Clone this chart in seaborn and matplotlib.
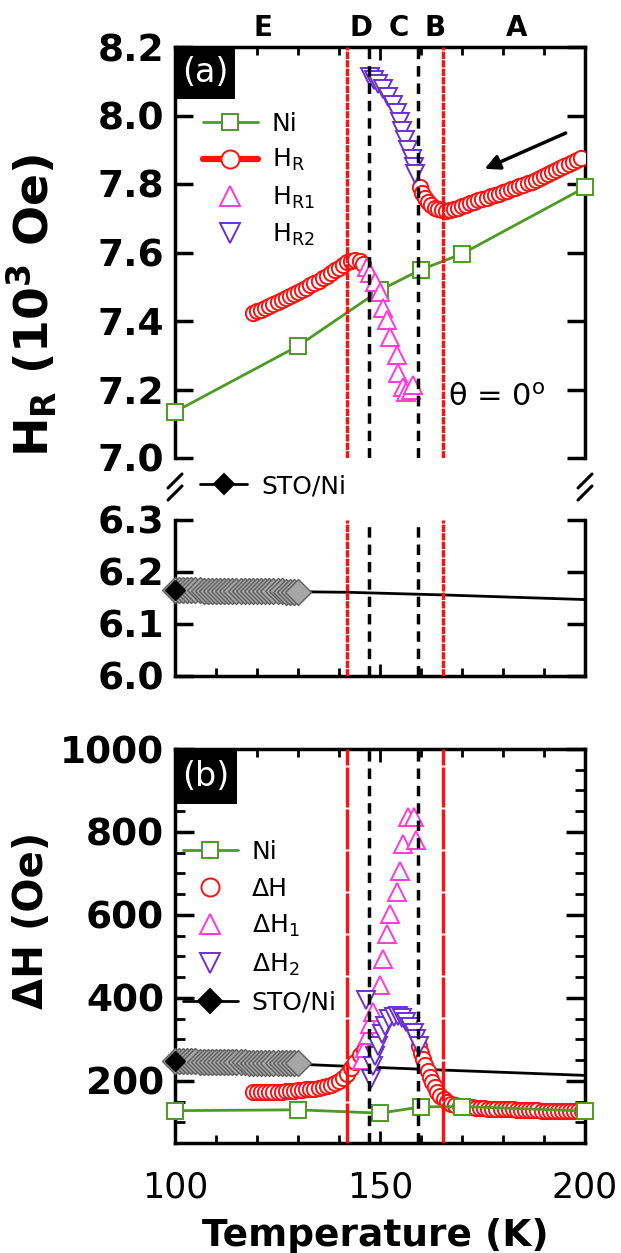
import matplotlib
matplotlib.use('Agg')
import matplotlib.pyplot as plt
import seaborn as sns
from matplotlib.lines import Line2D
from matplotlib.patches import Rectangle
from matplotlib.transforms import blended_transform_factory

sns.set_theme(style='ticks')
plt.rcParams['font.family'] = ['DejaVu Sans']
plt.rcParams['mathtext.default'] = 'regular'
for k in ('text.color', 'axes.labelcolor', 'xtick.color', 'ytick.color', 'axes.edgecolor'):
    plt.rcParams[k] = 'black'

# ---------------- data ----------------
ni_T = [100, 130, 150, 160, 170, 200]
ni_HR = [7.135, 7.327, 7.490, 7.550, 7.596, 7.790]
ni_dH = [128, 130, 122, 137, 138, 127]

hr_low_T = [119, 120, 121, 122, 123, 124, 125, 126, 127, 128, 129, 130, 131, 132,
            133, 134, 135, 136, 137, 138, 139, 140, 141, 142, 143, 144, 145, 145.8]
hr_low_H = [7.422, 7.428, 7.433, 7.439, 7.444, 7.450, 7.455, 7.461, 7.467, 7.473,
            7.479, 7.485, 7.491, 7.497, 7.504, 7.511, 7.518, 7.525, 7.532, 7.540,
            7.548, 7.556, 7.564, 7.571, 7.576, 7.578, 7.574, 7.566]
hr_up_T = [159.8, 160.3, 160.9, 161.6, 162.4, 163.3, 164.2, 165.1, 166.0, 167.0,
           168.0, 169.0, 170.0, 171.0, 172.0, 173.0, 174.0, 175.0, 176.0, 177.0,
           178.0, 179.0, 180.0, 181.0, 182.0, 183.0, 184.0, 185.0, 186.0, 187.0,
           188.0, 189.0, 190.0, 191.0, 192.0, 193.0, 194.0, 195.0, 196.0, 197.0,
           198.0, 199.0]
hr_up_H = [7.792, 7.775, 7.760, 7.748, 7.738, 7.731, 7.726, 7.723, 7.722, 7.724,
           7.727, 7.731, 7.736, 7.740, 7.744, 7.748, 7.752, 7.756, 7.760, 7.764,
           7.768, 7.772, 7.776, 7.780, 7.784, 7.788, 7.793, 7.797, 7.802, 7.807,
           7.812, 7.817, 7.822, 7.828, 7.834, 7.840, 7.846, 7.852, 7.858, 7.864,
           7.870, 7.876]

hr1_T = [146.8, 147.6, 148.8, 150.0, 150.8, 151.6, 152.4, 154.1, 154.5, 155.7,
         156.3, 157.6, 158.1]
hr1_H = [7.559, 7.539, 7.515, 7.486, 7.437, 7.403, 7.354, 7.301, 7.247, 7.208,
         7.194, 7.200, 7.213]

hr2_T = [147.6, 148.6, 149.6, 150.8, 152.0, 153.2, 154.1, 154.8, 155.4, 156.1,
         156.9, 157.7, 158.3, 158.6]
hr2_H = [8.113, 8.105, 8.093, 8.077, 8.055, 8.031, 8.006, 7.980, 7.956, 7.928,
         7.900, 7.874, 7.850, 7.830]

sto_mk_T = [100, 101, 102, 103, 104, 105, 106, 107, 108, 109, 110, 111, 112, 113,
            114, 115, 116, 117, 118, 119, 120, 121, 122, 123, 124, 125, 126, 127,
            128, 129, 130]
sto_mk_HR = [6.165, 6.165, 6.165, 6.165, 6.165, 6.165, 6.165, 6.164, 6.164, 6.164,
             6.164, 6.164, 6.164, 6.164, 6.164, 6.164, 6.164, 6.163, 6.163, 6.163,
             6.163, 6.163, 6.163, 6.163, 6.163, 6.163, 6.163, 6.162, 6.162, 6.162,
             6.162]
sto_mk_dH = [247, 247, 247, 247, 247, 247, 246, 246, 246, 246, 246, 246, 245, 245,
             245, 245, 245, 245, 244, 244, 244, 244, 244, 243, 243, 243, 243, 242,
             242, 242, 242]
sto_line_T = [100, 130, 142, 165, 200]
sto_line_HR = [6.165, 6.162, 6.161, 6.156, 6.147]
sto_line_dH = [247, 240, 235, 226, 213]

dh_low_T = [119, 120, 121, 122, 123, 124, 125, 126, 127, 128, 129, 130, 131, 132,
            133, 134, 135, 136, 137, 138, 139, 140, 141, 142, 143, 144, 145, 146]
dh_low = [172, 172, 172, 173, 173, 173, 174, 174, 175, 175, 176, 177, 178, 179,
          180, 181, 183, 185, 187, 190, 194, 199, 206, 216, 230, 246, 261, 274]
dh_up_T = [159.5, 160.0, 160.5, 161.0, 161.6, 162.2, 162.8, 163.4, 164.0, 164.7,
           165.5, 166.4, 167.4, 168.4, 169.4, 170.4, 171.4, 172.4, 173.4, 174.4,
           175.4, 176.4, 177.4, 178.4, 179.4, 180.4, 181.4, 182.4, 183.4, 184.4,
           185.4, 186.4, 187.4, 188.4, 189.4, 190.4, 191.4, 192.4, 193.4, 194.4,
           195.4, 196.4, 197.4, 198.4, 199.2]
dh_up = [283, 268, 252, 238, 224, 210, 197, 185, 174, 164, 156, 150, 145, 142, 140,
         138, 137, 136, 135, 134, 134, 133, 133, 132, 132, 131, 131, 131, 130, 130,
         130, 129, 129, 129, 128, 128, 128, 127, 127, 127, 127, 126, 126, 126, 126]

dh1_T = [145.6, 146.4, 147.0, 147.6, 148.2, 150.0, 150.8, 151.6, 152.4, 154.1,
         154.9, 155.7, 156.9, 158.3, 158.9]
dh1 = [250, 280, 310, 338, 365, 430, 494, 554, 602, 654, 705, 770, 836, 836, 780]

dh2_T = [146.5, 147.7, 148.2, 148.8, 149.5, 150.4, 151.3, 152.3, 153.3, 154.3,
         155.3, 156.3, 157.3, 158.2, 158.9, 159.5]
dh2 = [395, 205, 235, 260, 285, 312, 333, 348, 355, 357, 352, 342, 330, 316, 300, 285]

red_lines = [142.0, 165.3]
black_lines = [147.4, 159.3]
region_labels = ['E', 'D', 'C', 'B', 'A']
region_T = [121.5, 145.4, 154.6, 163.4, 183.4]

# ---------------- style ----------------
GREEN = '#4f9a24'
RED = '#ff1010'
PINK = '#ff3ad6'
PURPLE = '#6a30cf'

W, H = 621, 1253
fig = plt.figure(figsize=(W / 100, H / 100), dpi=100)


def fx(p):
    return p / W


def fy(p):
    return 1 - p / H


L, R = 175, 585
ax_a = fig.add_axes([fx(L), fy(458), fx(R) - fx(L), fy(47) - fy(458)])
ax_s = fig.add_axes([fx(L), fy(676), fx(R) - fx(L), fy(520) - fy(676)])
ax_b = fig.add_axes([fx(L), fy(1143), fx(R) - fx(L), fy(749) - fy(1143)])

for ax in (ax_a, ax_s, ax_b):
    ax.set_xlim(100, 200)
    for s in ax.spines.values():
        s.set_linewidth(2.5)
        s.set_color('black')
    ax.set_xticks([100, 150, 200])
    ax.set_xticks(range(100, 201, 10), minor=True)
    ax.tick_params(axis='x', which='major', direction='in', length=9, width=2,
                   top=True, bottom=True, labelsize=25, pad=20, colors='black')
    ax.tick_params(axis='x', which='minor', direction='in', length=6, width=2,
                   top=True, bottom=True, colors='black')
    ax.tick_params(axis='y', which='major', direction='in', length=13, width=2.5,
                   left=True, right=True, labelsize=27, pad=8, colors='black')

ax_a.set_ylim(7.0, 8.2)
ax_a.set_yticks([7.0, 7.2, 7.4, 7.6, 7.8, 8.0, 8.2])
ax_a.set_yticklabels(['7.0', '7.2', '7.4', '7.6', '7.8', '8.0', '8.2'])
ax_a.spines['bottom'].set_visible(False)
ax_a.tick_params(axis='x', which='both', bottom=False, labelbottom=False)

ax_s.set_ylim(6.0, 6.3)
ax_s.set_yticks([6.0, 6.1, 6.2, 6.3])
ax_s.set_yticklabels(['6.0', '6.1', '6.2', '6.3'])
ax_s.spines['top'].set_visible(False)
ax_s.tick_params(axis='x', which='both', top=False, labelbottom=False)

ax_b.set_ylim(50, 1000)
ax_b.set_yticks([200, 400, 600, 800, 1000])
ax_b.set_yticks(range(50, 1001, 50), minor=True)
ax_b.tick_params(axis='y', which='major', length=14)
ax_b.tick_params(axis='y', which='minor', direction='in', length=7, width=2,
                 left=True, right=True, colors='black')
ax_b.set_xticklabels(['100', '150', '200'])

for ax in (ax_a, ax_s, ax_b):
    for lab in ax.get_yticklabels():
        lab.set_fontweight('bold')

# vertical region lines
for ax, red_ls in ((ax_a, (0, (2.2, 0.35))), (ax_s, (0, (2.2, 0.35))), (ax_b, (0, (12, 0.6)))):
    for t in red_lines:
        ax.axvline(t, color=RED, lw=2.4, ls=red_ls, zorder=4)
    for t in black_lines:
        ax.axvline(t, color='black', lw=2.5, ls=(0, (3.0, 2.0)), zorder=4)

mk = dict(markeredgewidth=1.4, markerfacecolor='white')

# ---- panel (a) upper ----
sns.lineplot(x=ni_T, y=ni_HR, ax=ax_a, estimator=None, sort=False, color=GREEN, lw=2,
             marker='s', markersize=12, markeredgecolor=GREEN, zorder=3, clip_on=False, **mk)
for tt, hh in ((hr_low_T, hr_low_H), (hr_up_T, hr_up_H)):
    sns.lineplot(x=tt, y=hh, ax=ax_a, estimator=None, sort=False, color=RED, lw=2,
                 marker='o', markersize=11, markeredgecolor=RED, zorder=3, **mk)
sns.lineplot(x=hr1_T, y=hr1_H, ax=ax_a, estimator=None, sort=False, color=PINK, ls='',
             marker='^', markersize=13, markeredgecolor=PINK, zorder=3, **mk)
sns.lineplot(x=hr2_T, y=hr2_H, ax=ax_a, estimator=None, sort=False, color=PURPLE, ls='',
             marker='v', markersize=13, markeredgecolor=PURPLE, zorder=3, **mk)

# ---- panel (a) lower ----
sns.lineplot(x=sto_line_T, y=sto_line_HR, ax=ax_s, estimator=None, sort=False,
             color='black', lw=2, zorder=2)
sns.lineplot(x=sto_mk_T, y=sto_mk_HR, ax=ax_s, estimator=None, sort=False, ls='',
             marker='D', markersize=13, markerfacecolor='#a6a6a6',
             markeredgecolor='#5e5e5e', markeredgewidth=1.0, color='#a6a6a6', zorder=3,
             clip_on=False)
sns.lineplot(x=sto_mk_T[:1], y=sto_mk_HR[:1], ax=ax_s, estimator=None, ls='',
             marker='D', markersize=10, markerfacecolor='black', markeredgecolor='black',
             markeredgewidth=1, color='black', zorder=5, clip_on=False)

# ---- panel (b) ----
sns.lineplot(x=sto_line_T, y=sto_line_dH, ax=ax_b, estimator=None, sort=False,
             color='black', lw=2, zorder=2)
sns.lineplot(x=sto_mk_T, y=sto_mk_dH, ax=ax_b, estimator=None, sort=False, ls='',
             marker='D', markersize=13, markerfacecolor='#a6a6a6',
             markeredgecolor='#5e5e5e', markeredgewidth=1.0, color='#a6a6a6', zorder=3,
             clip_on=False)
sns.lineplot(x=sto_mk_T[:1], y=sto_mk_dH[:1], ax=ax_b, estimator=None, ls='',
             marker='D', markersize=10, markerfacecolor='black', markeredgecolor='black',
             markeredgewidth=1, color='black', zorder=5, clip_on=False)
for tt, hh in ((dh_low_T, dh_low), (dh_up_T, dh_up)):
    sns.lineplot(x=tt, y=hh, ax=ax_b, estimator=None, sort=False, color=RED, ls='',
                 marker='o', markersize=11, markeredgecolor=RED, zorder=3, **mk)
sns.lineplot(x=ni_T, y=ni_dH, ax=ax_b, estimator=None, sort=False, color=GREEN, lw=2,
             marker='s', markersize=12, markeredgecolor=GREEN, zorder=3, clip_on=False, **mk)
sns.lineplot(x=dh1_T, y=dh1, ax=ax_b, estimator=None, sort=False, color=PINK, ls='',
             marker='^', markersize=13, markeredgecolor=PINK, zorder=3, **mk)
sns.lineplot(x=dh2_T, y=dh2, ax=ax_b, estimator=None, sort=False, color=PURPLE, ls='',
             marker='v', markersize=13, markeredgecolor=PURPLE, zorder=3, **mk)

for ax in (ax_a, ax_s, ax_b):
    ax.set_xlim(100, 200)
    ax.set_xlabel('')
    ax.set_ylabel('')
    if ax.get_legend():
        ax.get_legend().remove()
ax_a.set_ylim(7.0, 8.2)
ax_s.set_ylim(6.0, 6.3)
ax_b.set_ylim(50, 1000)

# ---- legends ----
def h(color, marker, ls='-', lw=2, ms=12, mfc='white'):
    return Line2D([], [], color=color, ls=ls, lw=lw, marker=marker, markersize=ms,
                  markerfacecolor=mfc, markeredgecolor=color, markeredgewidth=1.4)

leg_a = ax_a.legend([h(GREEN, 's'), h(RED, 'o', lw=4.5, ms=13), h(PINK, '^', ls='', ms=14),
                     h(PURPLE, 'v', ls='', ms=14)],
                    ['Ni', 'H$_R$', 'H$_{R1}$', 'H$_{R2}$'],
                    loc='upper left', bbox_to_anchor=((203 - L) / 410, 1 - (112 - 47) / 411),
                    frameon=False, fontsize=18, handlelength=2.2, handletextpad=0.55,
                    labelspacing=0.45, borderpad=0, borderaxespad=0)

leg_s = ax_s.legend([h('black', 'D', ms=10, mfc='black')], ['STO/Ni'],
                    loc='center left', bbox_to_anchor=((200 - L) / 410, 1 + (520 - 486) / 156),
                    frameon=False, fontsize=18, handlelength=1.9, handletextpad=0.55,
                    borderpad=0, borderaxespad=0)

leg_b = ax_b.legend([h(GREEN, 's'), h(RED, 'o', ls='', ms=13), h(PINK, '^', ls='', ms=14),
                     h(PURPLE, 'v', ls='', ms=14), h('black', 'D', ms=12, mfc='black')],
                    ['Ni', 'ΔH', 'ΔH$_1$', 'ΔH$_2$', 'STO/Ni'],
                    loc='upper left', bbox_to_anchor=((183 - L) / 410, 1 - (840 - 749) / 394),
                    frameon=False, fontsize=18, handlelength=2.2, handletextpad=0.55,
                    labelspacing=0.5, borderpad=0, borderaxespad=0)

# ---- panel tags ----
for ax, tag, wbox, hbox in ((ax_a, '(a)', 60 / 410, 52 / 411), (ax_b, '(b)', 62 / 410, 55 / 394)):
    ax.add_patch(Rectangle((0, 1 - hbox), wbox, hbox, transform=ax.transAxes,
                           facecolor='black', edgecolor='none', zorder=6, clip_on=False))
    ax.text(wbox / 2, 1 - hbox / 2, tag, transform=ax.transAxes, color='white',
            fontsize=24, ha='center', va='center', zorder=7)

# region letters
trans = blended_transform_factory(ax_a.transData, ax_a.transAxes)
for lab, t in zip(region_labels, region_T):
    ax_a.text(t, 1 + (47 - 28) / 411, lab, transform=trans, ha='center', va='center',
              fontsize=20, fontweight='bold')

ax_a.text((497 - L) / 410, (458 - 397) / 411, 'θ = 0$^o$', transform=ax_a.transAxes,
          ha='center', va='center', fontsize=22)

ax_a.annotate('', xy=(174.9, 7.841), xytext=(195.9, 7.952),
              arrowprops=dict(arrowstyle='-|>', color='black', lw=2.5, mutation_scale=22))

# break marks
for xc in (L, R):
    for yc in (481, 493):
        fig.add_artist(Line2D([fx(xc - 7), fx(xc + 7)], [fy(yc + 7), fy(yc - 7)],
                              transform=fig.transFigure, color='black', lw=2.2))

# axis labels
fig.text(fx(32), fy(305), 'H$_R$ (10$^3$ Oe)', rotation=90, ha='center', va='center',
         fontsize=34, fontweight='bold')
fig.text(fx(32), fy(920), 'ΔH (Oe)', rotation=90, ha='center', va='center',
         fontsize=29, fontweight='bold')
fig.text(fx(375), fy(1236), 'Temperature (K)', ha='center', va='center',
         fontsize=27, fontweight='bold')

fig.savefig('out.png', dpi=100)
